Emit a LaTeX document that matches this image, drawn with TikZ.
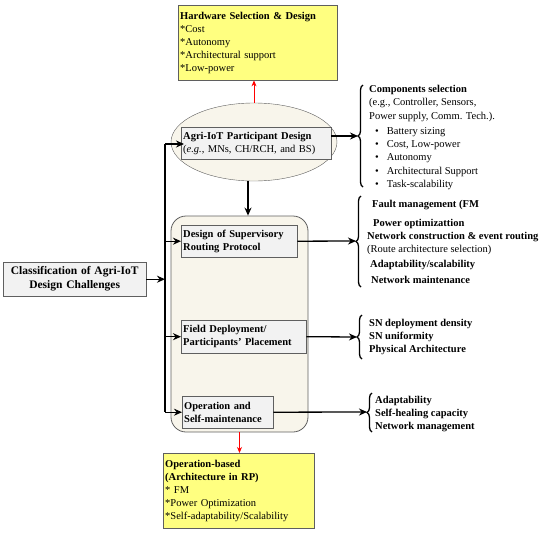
\documentclass[tikz,border=0pt]{standalone}
\usepackage{fontspec}
\setmainfont{Liberation Serif}
\usetikzlibrary{arrows.meta,decorations.pathreplacing,shapes.geometric,calc}
\definecolor{noteyellow}{RGB}{255,255,128}
\definecolor{stagecream}{RGB}{248,245,235}
\definecolor{itemgray}{RGB}{242,242,242}
\definecolor{edgegray}{RGB}{95,95,95}

\begin{document}
\begin{tikzpicture}[x=1pt,y=-1pt,font=\fontsize{10.5}{13}\selectfont]
		\tikzset{notestyle/.style={rectangle, draw=edgegray, fill=noteyellow, anchor=north west, align=left, inner sep=2pt, minimum height=75pt},
			itemstyle/.style={rectangle, draw=edgegray, fill=itemgray, anchor=north west, align=left, inner sep=2pt, minimum height=32pt, font=\fontsize{10.5}{13}\selectfont\bfseries},
			liststyle/.style={anchor=north west, align=left, inner sep=0pt},
			flow/.style={-{Stealth[length=8pt,width=7pt]}, line width=1.3pt},
			redflow/.style={-{Stealth[length=6pt,width=5pt]}, red, line width=0.8pt},
			curly/.style={decorate, decoration={brace, amplitude=5pt}, line width=1.3pt}}
		\useasboundingbox (0,0) rectangle (550,536);
		
		\node[notestyle, text width=155pt] (recthw) at (178,5) {\textbf{Hardware Selection \& Design}\\{}*Cost\\{}*Autonomy\\{}*Architectural support\\{}*Low-power};
		\node[ellipse, draw=edgegray, fill=stagecream, minimum width=166pt, minimum height=78pt] (ellpart) at (254,142) {};
		\node[itemstyle, text width=146pt] (rectpart) at (181,127) {Agri-IoT Participant Design\\{\mdseries(\textit{e.g.}, MNs, CH/RCH, and BS)}};
		
		\node[draw=edgegray, fill=stagecream, line width=0.8pt, rounded corners=15pt, minimum width=137pt, minimum height=216pt] (rectstage) at (239.5,324) {};
		\node[itemstyle, text width=112pt] (rectsrp) at (181,225) {Design of Supervisory\\Routing Protocol};
		\node[itemstyle, text width=121pt, minimum height=33pt] (rectfield) at (181,320) {Field Deployment/\\Participants' Placement};
		\node[itemstyle, text width=87pt] (rectoper) at (182,396) {Operation and\\Self-maintenance};
		
		\node[itemstyle, align=center, text width=139pt, minimum height=34pt, font=\fontsize{11.5}{14}\selectfont\bfseries] (rectclass) at (3,262) {Classification of Agri-IoT\\Design Challenges};
		
		\node[notestyle, text width=147pt] (rectopbased) at (163,453) {\textbf{Operation-based}\\\textbf{(Architecture in RP)}\\{}* FM\\{}*Power Optimization\\{}*Self-adaptability/Scalability};
		
		% lists on the right
		\node[liststyle, font=\fontsize{10.5}{13.3}\selectfont] (listcomp) at (369,85) {\textbf{Components selection}\\(e.g., Controller, Sensors,\\Power supply, Comm. Tech.).\\[2pt]
			\hspace*{6pt}\textbullet\hspace{8pt}Battery sizing\\\hspace*{6pt}\textbullet\hspace{8pt}Cost, Low-power\\\hspace*{6pt}\textbullet\hspace{8pt}Autonomy\\\hspace*{6pt}\textbullet\hspace{8pt}Architectural Support\\\hspace*{6pt}\textbullet\hspace{8pt}Task-scalability};
		\node[liststyle, font=\fontsize{10.5}{13}\selectfont\bfseries] (listsrp) at (367,200) {\hspace*{5pt}Fault management (FM\\[6pt]\hspace*{6pt}Power optimizattion\\Network construction \& event routing\\{\mdseries(Route architecture selection)}\\[2pt]\hspace*{3pt}Adaptability/scalability\\[3pt]\hspace*{4pt}Network maintenance};
		\node[liststyle, font=\fontsize{10.5}{13}\selectfont\bfseries] (listfield) at (369,319) {SN deployment density\\SN uniformity\\Physical Architecture};
		\node[liststyle, font=\fontsize{10.5}{13}\selectfont\bfseries] (listoper) at (375,396) {Adaptability\\Self-healing capacity\\Network management};
		
		% braces and their tips
		\draw[curly] (363,187) -- (363,85);
		\coordinate (tipcomp) at (358,136);
		\draw[curly] (361,287) -- (361,196);
		\coordinate (tipsrp) at (356,241);
		\draw[curly] (362,359) -- (362,315);
		\coordinate (tipfield) at (357,337);
		\draw[curly] (372,432) -- (372,393);
		\coordinate (tipoper) at (367,412);
		
		% trunk on the left
		\coordinate (trunktop) at (165,144);
		\coordinate (trunkbot) at (165,412);
		\draw[line width=1.3pt] (trunktop) -- (trunkbot);
		\draw[flow, shorten >=-3pt] (trunktop) -- (trunktop -| rectpart.west);
		\draw[flow] (rectsrp.west -| trunktop) -- (rectsrp.west);
		\draw[flow] (rectfield.west -| trunktop) -- (rectfield.west);
		\draw[flow] (rectoper.west -| trunktop) -- (rectoper.west);
		\draw[flow] (rectclass.east) -- (rectclass.east -| trunktop);
		
		\draw[flow] ([xshift=-6pt]ellpart.south) -- ([xshift=-6pt]ellpart.south |- rectstage.north);
		\draw[flow] (rectpart.east |- tipcomp) -- (tipcomp);
		\draw[flow] (rectsrp.east) -- (tipsrp);
		\draw[flow] (rectfield.east) -- (tipfield);
		\draw[flow] (rectoper.east) -- (tipoper);
		
		\draw[redflow] (ellpart.north) -- (ellpart.north |- recthw.south);
		\draw[redflow] (rectstage.south) -- (rectstage.south |- rectopbased.north);
		
\end{tikzpicture}
\end{document}
